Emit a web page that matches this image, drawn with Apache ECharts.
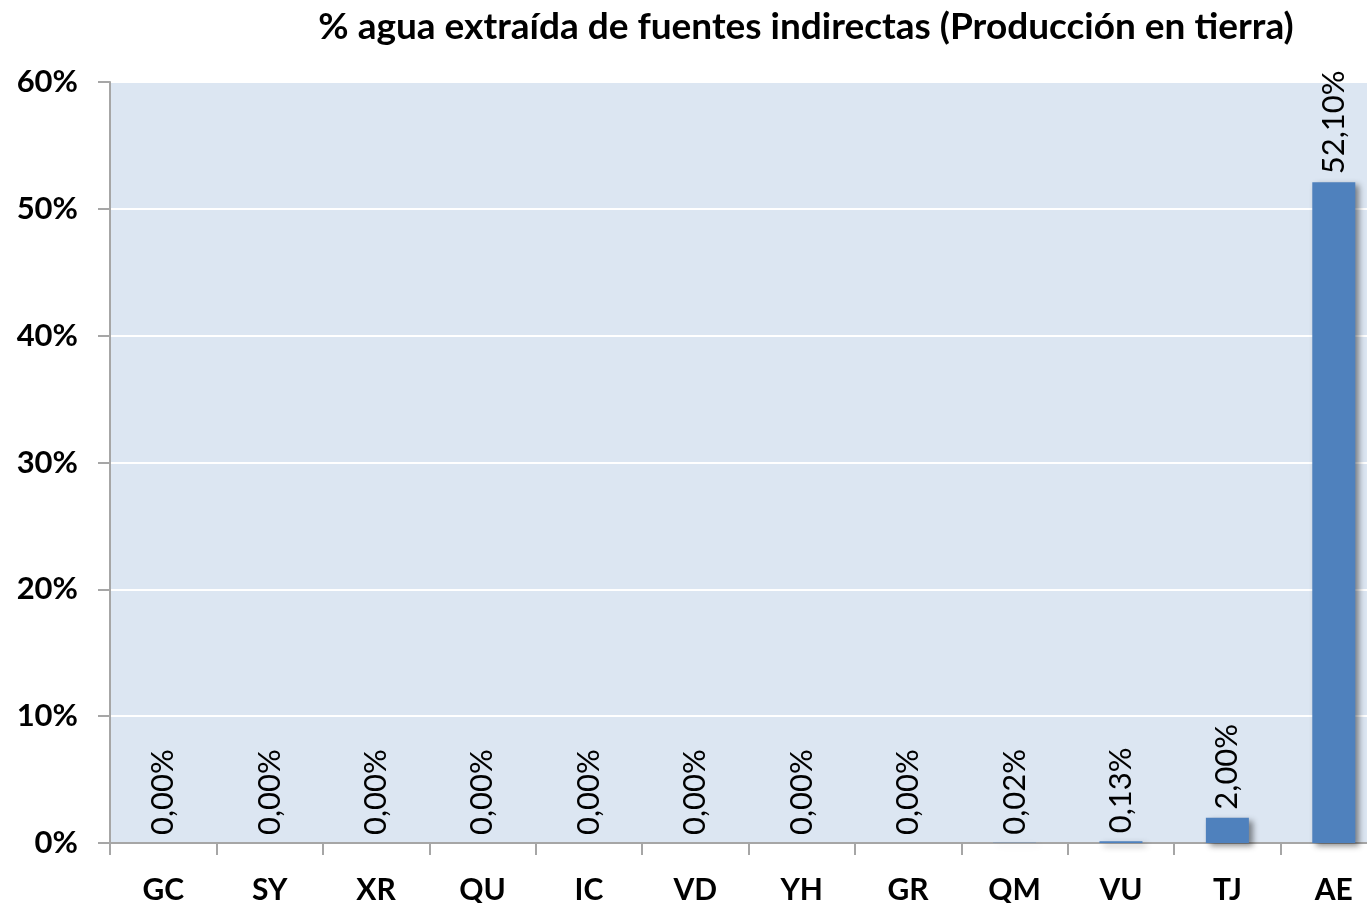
<!DOCTYPE html>
<html>
<head>
<meta charset="utf-8">
<script src="https://cdn.jsdelivr.net/npm/echarts@6/dist/echarts.min.js"></script>
<style>
html,body{margin:0;padding:0;background:#fff;}
#chart{width:1367px;height:903px;}
</style>
</head>
<body>
<div id="chart"></div>
<script>
const titleText = '% agua extraída de fuentes indirectas (Producción en tierra)';
const categories = ['GC','SY','XR','QU','IC','VD','YH','GR','QM','VU','TJ','AE'];
const values = [0, 0, 0, 0, 0, 0, 0, 0, 0.02, 0.13, 2.00, 52.10];
const yTicks = [0, 10, 20, 30, 40, 50, 60];

const chart = echarts.init(document.getElementById('chart'));
const FONT = 'Lato';
chart.setOption({
  animation: false,
  title: {
    text: titleText,
    left: 801, top: 4, textAlign: 'center',
    textStyle: {fontFamily: FONT, fontWeight: 'bold', fontSize: 37, color: '#000'}
  },
  grid: {left: 110, right: -20, top: 82, bottom: 60, show: true, backgroundColor: '#dce6f2', borderWidth: 0,
    containLabel: false, outerBoundsMode: 'none'},
  xAxis: {
    type: 'category', data: categories,
    axisLine: {lineStyle: {color: '#a6a6a6', width: 2}},
    axisTick: {show: true, length: 12, lineStyle: {color: '#a6a6a6', width: 2}},
    axisLabel: {fontFamily: FONT, fontWeight: 'bold', fontSize: 30, color: '#000', margin: 32}
  },
  yAxis: {
    type: 'value', min: yTicks[0], max: yTicks[yTicks.length - 1], interval: 10,
    axisLine: {show: true, lineStyle: {color: '#a6a6a6', width: 2}},
    axisTick: {show: true, length: 12, lineStyle: {color: '#a6a6a6', width: 2}},
    splitLine: {lineStyle: {color: '#ffffff', width: 2}},
    axisLabel: {fontFamily: FONT, fontWeight: 'bold', fontSize: 31, color: '#000', margin: 32,
      formatter: v => v + '%'}
  },
  series: [{
    type: 'bar', data: values, barWidth: 43,
    itemStyle: {color: '#4f81bd', shadowColor: 'rgba(0,0,0,0.45)', shadowBlur: 6, shadowOffsetX: 4, shadowOffsetY: 3},
    label: {
      show: true, position: 'top', distance: 8, rotate: 90, align: 'left', verticalAlign: 'middle',
      fontFamily: FONT, fontSize: 31, color: '#000',
      formatter: p => p.value.toFixed(2).replace('.', ',') + '%'
    }
  }]
});
</script>
</body>
</html>
